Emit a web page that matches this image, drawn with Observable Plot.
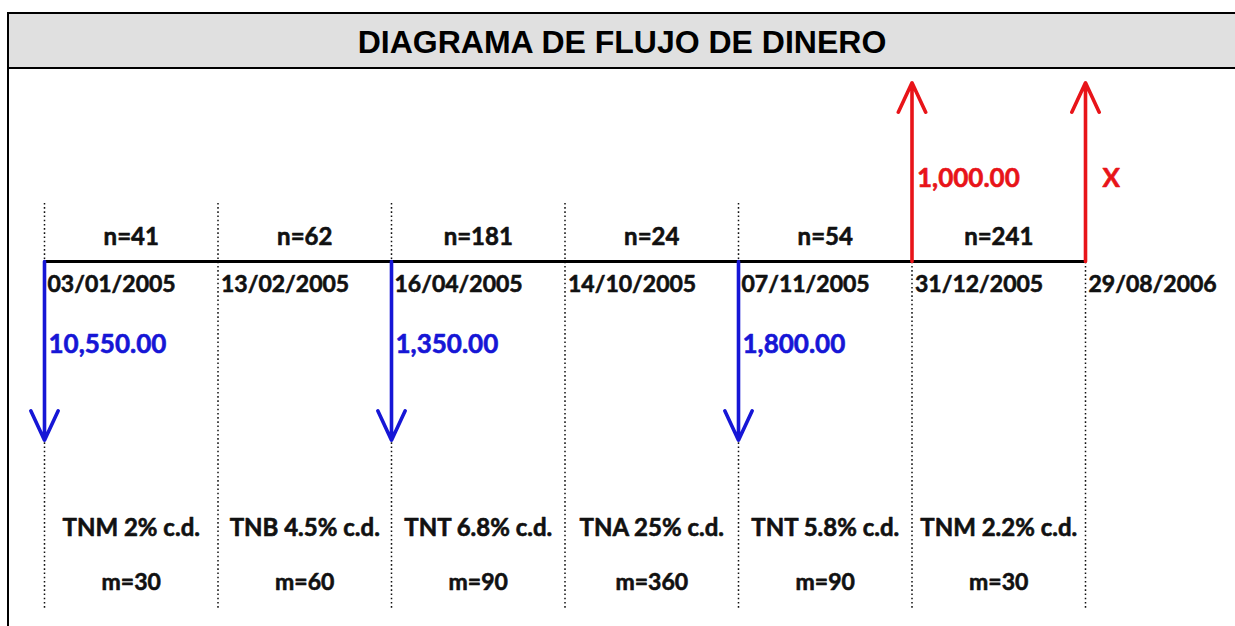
<!DOCTYPE html>
<html><head><meta charset="utf-8">
<script src="https://cdn.jsdelivr.net/npm/d3@7"></script>
<script src="https://cdn.jsdelivr.net/npm/@observablehq/plot@0.6"></script>
<style>
html,body{margin:0;padding:0;background:#fff;width:1235px;height:626px;overflow:hidden}
#frame{position:absolute;left:7px;top:12px;width:1226px;height:614px;border-left:2px solid #000;}
#title{height:53px;background:#e0e0e0;border-top:2px solid #000;border-bottom:2px solid #000;font:bold 32px "Liberation Sans",Arial,sans-serif;text-align:center;line-height:57px;color:#000}
#chart svg{display:block}
</style></head><body>
<div id="frame"><div id="title">DIAGRAMA DE FLUJO DE DINERO</div><div id="chart"></div></div>
<script>
// ---- data ----
const dates = ["03/01/2005","13/02/2005","16/04/2005","14/10/2005","07/11/2005","31/12/2005","29/08/2006"];
const days = [41, 62, 181, 24, 54, 241];
const rates = ["TNM 2% c.d.","TNB 4.5% c.d.","TNT 6.8% c.d.","TNA 25% c.d.","TNT 5.8% c.d.","TNM 2.2% c.d."];
const capDays = [30, 60, 90, 360, 90, 30];
const flowAt = [0, 2, 4, 5, 6];
const flowLabels = ["10,550.00", "1,350.00", "1,800.00", "1,000.00", "X"];
const flowSign = [-1, -1, -1, 1, 1];

// ---- derived tables ----
const points = dates.map((d, i) => ({i, date: d}));
const intervals = days.map((n, i) => ({mid: i + 0.5, n: "n=" + n, rate: rates[i], m: "m=" + capDays[i]}));
const flows = flowAt.map((i, k) => ({i, label: flowLabels[k], sign: flowSign[k]}));

const BLUE = "#1616d6", RED = "#e81419", INK = "#111";
const font = "Lato, 'Open Sans', sans-serif";
const txt = (size, color) => ({fontFamily: font, fontWeight: "bold", fontSize: size, fill: color, stroke: color, strokeWidth: 0.6});

const chart = Plot.plot({
  width: 1226, height: 557,
  marginLeft: 35, marginRight: 150, marginTop: 16, marginBottom: 13,
  x: {domain: [0, dates.length - 1], axis: null},
  y: {domain: [-2, 1], axis: null},
  marks: [
    Plot.ruleX(points, {x: "i", y1: 0.33, y2: -1.97, stroke: "#111", strokeWidth: 1.5, strokeDasharray: "1.6,2.6"}),
    Plot.ruleY([0], {x1: 0, x2: dates.length - 1, stroke: "#000", strokeWidth: 3}),
    Plot.arrow(flows, {x1: "i", x2: "i", y1: 0, y2: d => d.sign * 1.015, stroke: d => d.sign < 0 ? BLUE : RED,
      strokeWidth: 3.6, headLength: 13.5, headAngle: 50}),
    Plot.text(intervals, {x: "mid", y: 0.14, text: "n", ...txt(24, INK)}),
    Plot.text(points, {x: "i", y: -0.13, text: "date", textAnchor: "start", dx: 3, ...txt(23, INK)}),
    Plot.text(flows.filter(d => d.sign < 0), {x: "i", y: -0.47, text: "label", textAnchor: "start", dx: 4, ...txt(26, BLUE)}),
    Plot.text(flows.filter(d => d.sign > 0 && d.label !== "X"), {x: "i", y: 0.47, text: "label", textAnchor: "start", dx: 5, ...txt(26, RED)}),
    Plot.text(flows.filter(d => d.label === "X"), {x: "i", y: 0.47, text: "label", textAnchor: "start", dx: 17, ...txt(26, RED)}),
    Plot.text(intervals, {x: "mid", y: -1.515, text: "rate", ...txt(24, INK)}),
    Plot.text(intervals, {x: "mid", y: -1.825, text: "m", ...txt(23, INK)})
  ]
});
document.getElementById("chart").append(chart);
</script>
</body></html>
